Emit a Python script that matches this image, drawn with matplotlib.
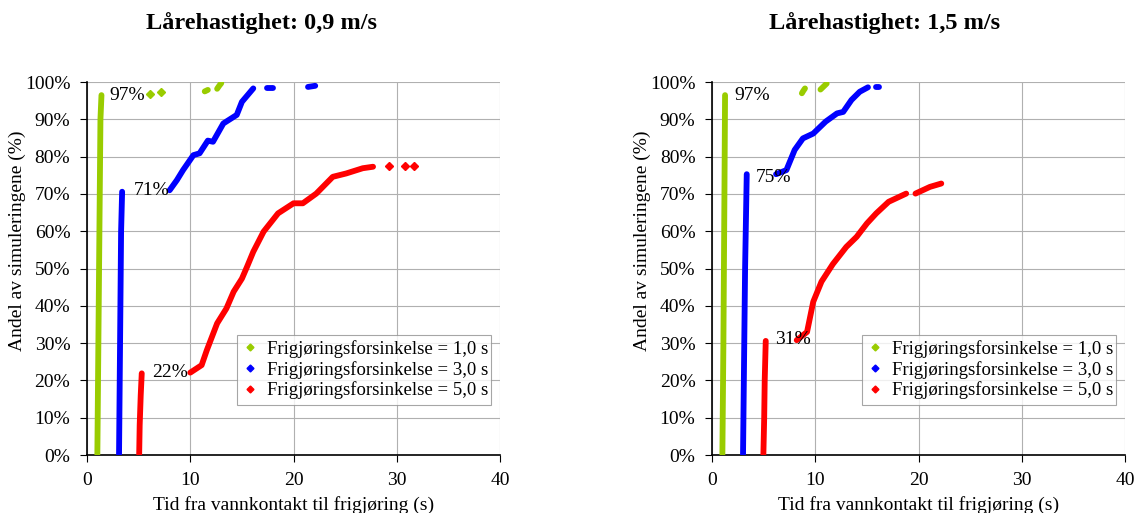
import matplotlib
matplotlib.use('Agg')
import matplotlib.pyplot as plt
from matplotlib.lines import Line2D

# ---- data (tid i s, andel i %) ----
titles = ['Lårehastighet: 0,9 m/s', 'Lårehastighet: 1,5 m/s']
series_names = ['Frigjøringsforsinkelse = 1,0 s',
                'Frigjøringsforsinkelse = 3,0 s',
                'Frigjøringsforsinkelse = 5,0 s']
colors = ['#99cc00', '#0000ff', '#ff0000']

# 0,9 m/s : each series is a list of (x, y) segments
v09_d1 = [([1.0, 1.1, 1.2, 1.3, 1.4], [0, 30, 60, 90, 96.5]),
          ([6.1], [96.8]), ([7.2], [97.3]),
          ([11.4, 11.7], [97.5, 97.9]),
          ([12.6, 12.8, 13.0], [98.2, 99.0, 99.7])]
v09_d3 = [([3.1, 3.2, 3.3, 3.4], [0, 30, 60, 70.6]),
          ([8.0, 8.7, 9.3, 10.3, 10.9, 11.7, 12.2, 13.2, 14.5, 15.0, 16.1],
           [71.0, 73.7, 76.4, 80.4, 80.9, 84.3, 84.0, 88.9, 91.2, 94.7, 98.3]),
          ([17.4, 18.0], [98.3, 98.3]),
          ([21.4, 22.1], [98.7, 99.0])]
v09_d5 = [([5.05, 5.1, 5.2, 5.3], [0, 8, 16, 21.9]),
          ([10.0, 11.1, 11.6, 12.6, 13.5, 14.2, 15.0, 15.5, 16.1, 17.1, 18.5,
            20.0, 20.9, 22.2, 23.8, 25.1, 26.7, 27.7],
           [22.1, 24.1, 28.1, 35.3, 39.3, 43.8, 47.3, 50.5, 54.5, 59.9, 64.8,
            67.5, 67.5, 70.1, 74.6, 75.5, 76.9, 77.3]),
          ([29.2], [77.5]), ([30.8], [77.5]), ([31.7], [77.6])]
v09_labels = ['97%', '71%', '22%']
v09_label_y = [96.5, 71.0, 22.0]

# 1,5 m/s
v15_d1 = [([1.0, 1.1, 1.2, 1.26], [0, 30, 70, 96.5]),
          ([8.7, 8.85, 9.0], [97.0, 97.7, 98.3]),
          ([10.5, 10.8, 11.1], [98.0, 98.8, 99.6])]
v15_d3 = [([3.0, 3.1, 3.2, 3.36], [0, 25, 50, 75.3]),
          ([6.2, 7.2, 8.0, 8.8, 9.8, 11.0, 12.1, 12.7, 13.5, 14.3, 15.1],
           [75.3, 76.4, 81.8, 84.9, 86.2, 89.4, 91.6, 92.0, 95.2, 97.4, 98.6]),
          ([15.9, 16.2], [98.6, 98.6])]
v15_d5 = [([4.97, 5.05, 5.1, 5.2], [0, 10, 20, 30.6]),
          ([8.2, 9.2, 9.8, 10.6, 11.7, 13.0, 14.0, 15.0, 15.9, 17.1, 18.8],
           [30.8, 33.0, 41.1, 46.5, 51.2, 55.8, 58.5, 62.1, 64.8, 67.9, 70.1]),
          ([19.7, 21.1, 22.2], [70.1, 71.9, 72.8])]
v15_labels = ['97%', '75%', '31%']
v15_label_y = [96.5, 74.5, 31.0]

plt.rcParams['font.family'] = ['Liberation Serif', 'DejaVu Serif']


def draw_panel(ax, series, labels, label_y, label_x):
    for segs, col in zip(series, colors):
        for xs, ys in segs:
            if len(xs) > 1:
                ax.plot(xs, ys, color=col, lw=4.2, solid_capstyle='round',
                        solid_joinstyle='round', zorder=3)
            else:
                ax.plot(xs, ys, 'D', color=col, ms=3.8, zorder=3)
    for txt, lx, ly in zip(labels, label_x, label_y):
        ax.text(lx, ly, txt, fontsize=14, va='center', ha='left', zorder=4)

    ax.set_xlim(0, 40)
    ax.set_ylim(0, 100)
    ax.set_xticks([0, 10, 20, 30, 40])
    ax.set_yticks(range(0, 101, 10))
    ax.set_yticklabels(['%d%%' % v for v in range(0, 101, 10)])
    ax.tick_params(labelsize=14, direction='out', length=5, width=0.8)
    ax.tick_params(axis='x', pad=7)
    ax.tick_params(axis='y', pad=7)
    ax.grid(True, color='#b0b0b0', lw=0.8)
    ax.set_axisbelow(True)
    for s in ['top', 'right']:
        ax.spines[s].set_visible(False)
    for s in ['left', 'bottom']:
        ax.spines[s].set_linewidth(1.2)
    ax.set_xlabel('Tid fra vannkontakt til frigjøring (s)', fontsize=14, labelpad=5)
    ax.set_ylabel('Andel av simuleringene (%)', fontsize=14)
    ax.yaxis.set_label_coords(-0.148, 0.574)

    handles = [Line2D([], [], ls='none', marker='D', ms=3.5, color=c) for c in colors]
    leg = ax.legend(handles, series_names, loc='lower left',
                    bbox_to_anchor=(0.363, 0.134, 0.616, 0.233), mode='expand',
                    fontsize=13.5, frameon=True, fancybox=False, handlelength=0.8,
                    handletextpad=0.5, borderpad=0.3, labelspacing=0.15,
                    borderaxespad=0)
    leg.get_frame().set_edgecolor('#909090')
    leg.get_frame().set_linewidth(0.8)


fig = plt.figure(figsize=(11.36, 5.13), dpi=100)
ax1 = fig.add_axes([0.0766, 0.113, 0.3636, 0.727])
ax2 = fig.add_axes([0.6268, 0.113, 0.3636, 0.727])

draw_panel(ax1, [v09_d1, v09_d3, v09_d5], v09_labels, v09_label_y, [2.2, 4.5, 6.3])
draw_panel(ax2, [v15_d1, v15_d3, v15_d5], v15_labels, v15_label_y, [2.2, 4.2, 6.1])

fig.text(262 / 1136, 1 - 23 / 513, titles[0], fontsize=17.5, fontweight='bold',
         ha='center', va='center')
fig.text(885 / 1136, 1 - 23 / 513, titles[1], fontsize=17.5, fontweight='bold',
         ha='center', va='center')

fig.savefig('out.png', dpi=100)
